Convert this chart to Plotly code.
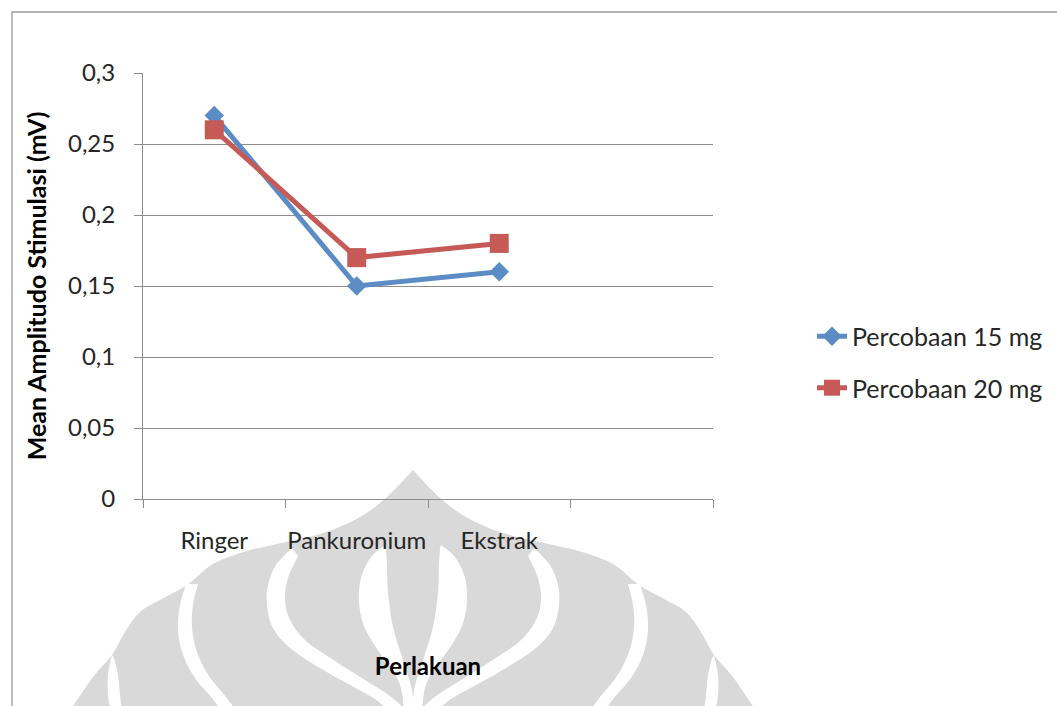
import plotly.graph_objects as go

# ---- data -------------------------------------------------------------
CATEGORIES = ["Ringer", "Pankuronium", "Ekstrak"]
SLOTS = CATEGORIES + [" "]          # fourth, unused category slot on the axis
SERIES_15_MG = [0.27, 0.15, 0.16]
SERIES_20_MG = [0.26, 0.17, 0.18]
SERIES_NAMES = ["Percobaan 15 mg", "Percobaan 20 mg"]
Y_TICKS = [0, 0.05, 0.1, 0.15, 0.2, 0.25, 0.3]
Y_TICK_TEXT = ["0", "0,05", "0,1", "0,15", "0,2", "0,25", "0,3"]

# ---- layout geometry (pixels) -------------------------------------------
W, H = 1057, 706
ML, MR, MT, MB = 143, 344, 73, 207
PW = W - ML - MR
PH = H - MT - MB
BOTTOM = H - MB

FONT = "Lato"
TEXT = "#262626"
GRID = "#8c8c8c"
BLUE = "#5b8cc6"
RED = "#c55a56"
MARK = "#d9d9d9"


def to_paper(x, y):
    return (x - ML) / PW, (BOTTOM - y) / PH


def curve(points, start=True):
    """Catmull-Rom curve through pixel points, as SVG path commands in paper units."""
    pts = [to_paper(*p) for p in points]
    out = []
    if start:
        out.append("M%.5f,%.5f" % pts[0])
    else:
        out.append("L%.5f,%.5f" % pts[0])
    n = len(pts)
    for i in range(n - 1):
        p0 = pts[i - 1] if i > 0 else pts[i]
        p1 = pts[i]
        p2 = pts[i + 1]
        p3 = pts[i + 2] if i + 2 < n else pts[i + 1]
        c1 = (p1[0] + (p2[0] - p0[0]) / 6, p1[1] + (p2[1] - p0[1]) / 6)
        c2 = (p2[0] - (p3[0] - p1[0]) / 6, p2[1] - (p3[1] - p1[1]) / 6)
        out.append("C%.5f,%.5f %.5f,%.5f %.5f,%.5f" % (c1 + c2 + p2))
    return " ".join(out)


def mirror(points, cx=413):
    return [(2 * cx - x, y) for x, y in points]


def band(left, right):
    """Closed region between two edges: left edge downward, right edge upward."""
    return curve(left) + " " + curve(right, start=False) + " Z"


def mirrored_band(left, right):
    return band(mirror(right)[::-1], mirror(left)[::-1])


# watermark emblem outline (left half, from the bottom up to the tip)
outline_left = [(64, 716), (73, 706), (93, 677), (112, 655), (125, 632),
                (140, 612), (160, 600), (187, 585), (213, 564), (247, 551),
                (273, 545), (323, 533), (360, 517), (387, 497), (413, 470)]
outline_right = mirror(outline_left[::-1])
emblem = curve(outline_left) + " " + curve(outline_right, start=False) + " Z"

# white gaps of the emblem, as (left edge, right edge) pairs on the left half
GAPS = [
    ([(112, 655), (108, 675), (108, 695), (111, 712)],
     [(122, 712), (120, 695), (118, 675), (114, 658)]),
    ([(186, 584), (180, 605), (178, 630), (183, 655), (195, 678),
      (212, 698), (222, 712)],
     [(237, 712), (226, 697), (209, 676), (197, 652), (192, 628),
      (193, 605), (198, 584)]),
    ([(292, 548), (276, 565), (268, 585), (267, 605), (273, 628),
      (290, 648), (320, 668), (350, 685), (375, 699), (390, 712)],
     [(408, 712), (390, 696), (365, 680), (335, 661), (306, 641),
      (290, 620), (285, 600), (288, 578), (298, 556)]),
    ([(385, 545), (371, 557), (361, 578), (359, 602), (364, 626),
      (377, 649), (392, 669), (401, 688), (404, 712)],
     [(413, 712), (412, 690), (403, 660), (393, 627), (388, 593),
      (387, 565), (386, 548)]),
]

shapes = [dict(type="path", path=emblem, xref="paper", yref="paper",
               fillcolor=MARK, line=dict(width=0), layer="below")]
for left, right in GAPS:
    for p in (band(left, right), mirrored_band(left, right)):
        shapes.append(dict(type="path", path=p, xref="paper", yref="paper",
                           fillcolor="white", line=dict(width=0), layer="below"))

# chart-area frame
bx0, by0 = to_paper(12, 12)
bx1, by1 = to_paper(W + 10, H + 10)
shapes.append(dict(type="rect", xref="paper", yref="paper",
                   x0=bx0, y0=by1, x1=bx1, y1=by0,
                   line=dict(color="#9a9a9a", width=1.3), layer="below"))

# ---- figure -------------------------------------------------------------
fig = go.Figure()
fig.add_trace(go.Scatter(
    x=CATEGORIES, y=SERIES_15_MG, name=SERIES_NAMES[0], mode="lines+markers",
    legendgroup="a",
    line=dict(color=BLUE, width=5),
    marker=dict(symbol="diamond", size=15, color=BLUE)))
fig.add_trace(go.Scatter(
    x=CATEGORIES, y=SERIES_20_MG, name=SERIES_NAMES[1], mode="lines+markers",
    legendgroup="b",
    line=dict(color=RED, width=5),
    marker=dict(symbol="square", size=19, color=RED)))

lx, ly = to_paper(812, 362)

fig.update_layout(
    width=W, height=H,
    margin=dict(l=ML, r=MR, t=MT, b=MB, pad=0, autoexpand=False),
    paper_bgcolor="white", plot_bgcolor="white",
    font=dict(family=FONT, size=24, color=TEXT),
    shapes=shapes,
    showlegend=True,
    legend=dict(x=lx, y=ly, xanchor="left", yanchor="middle",
                font=dict(family=FONT, size=25, color=TEXT),
                tracegroupgap=16, bgcolor="rgba(0,0,0,0)",
                itemwidth=30),
    xaxis=dict(
        type="category", categoryorder="array", categoryarray=SLOTS,
        range=[-0.5, 3.5], tickson="boundaries", tickangle=0,
        ticks="outside", ticklen=8, tickwidth=1, tickcolor=GRID,
        showline=True, linecolor=GRID, linewidth=1,
        showgrid=False, zeroline=False, automargin=False,
        ticklabelstandoff=20,
        tickfont=dict(family=FONT, size=24, color=TEXT),
        title=dict(text="<b>Perlakuan</b>", standoff=105,
                   font=dict(family=FONT, size=24, color="#000000")),
        fixedrange=True),
    yaxis=dict(
        range=[0, 0.3], tickvals=Y_TICKS, ticktext=Y_TICK_TEXT,
        ticks="outside", ticklen=8, tickwidth=1, tickcolor=GRID,
        showline=True, linecolor=GRID, linewidth=1,
        showgrid=True, gridcolor=GRID, gridwidth=1, zeroline=False,
        automargin=False,
        ticklabelstandoff=14,
        tickfont=dict(family=FONT, size=24, color=TEXT),
        title=dict(text="<b>Mean Amplitudo Stimulasi (mV)</b>", standoff=14,
                   font=dict(family=FONT, size=25, color="#000000")),
        fixedrange=True),
)

fig.write_html("out.html")
